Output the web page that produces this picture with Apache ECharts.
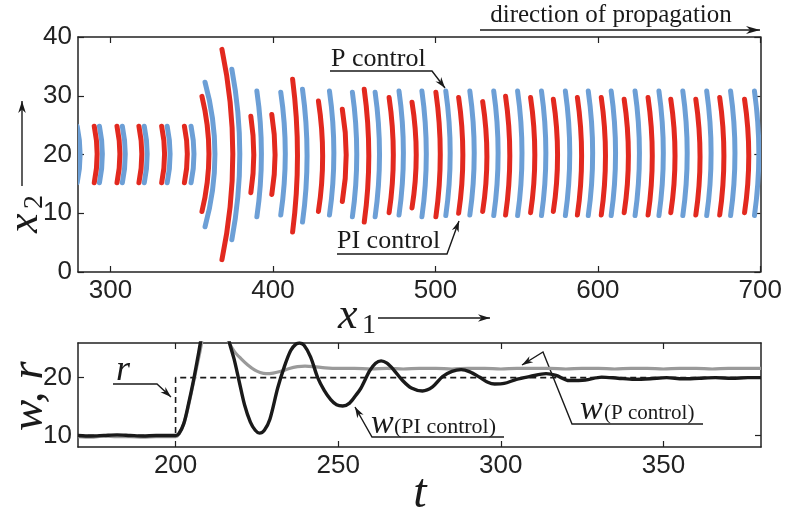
<!DOCTYPE html>
<html><head><meta charset="utf-8">
<script src="https://cdn.jsdelivr.net/npm/echarts@6/dist/echarts.min.js"></script>
<style>html,body{margin:0;padding:0;background:#fff}#c{width:785px;height:513px}</style>
</head><body><div id="c"></div>
<script>
// ---------- top panel: wave fronts [x1 at arc ends, x2 top, x2 bottom, bulge of arc middle in x1] ----------
const piFronts = [ // red (PI control)
  [290.0,24.8,15.2,1.8],[304.0,24.8,15.2,1.8],[317.5,24.8,15.2,1.8],[331.5,24.8,15.2,1.8],[345.5,24.8,15.2,1.8],
  [356.3,29.9,10.3,4.3],[368.6,37.9,2.1,6.7],[386.4,26.5,13.5,1.8],[399.3,26.8,13.2,2.0],[412.1,32.8,6.8,3.0],
  [428.0,29.1,10.3,2.6],[442.7,27.7,12.0,2.4],[456.2,31.1,8.5,2.8],[471.5,29.7,10.1,2.6],[485.6,28.9,10.9,2.6],
  [500.3,30.6,9.4,2.7],[514.3,29.7,10.0,2.6],[529.1,29.0,10.3,2.6],[543.2,29.9,9.7,2.6],[558.6,29.7,10.1,2.6],
  [572.6,29.4,10.3,2.6],[587.4,29.7,9.7,2.6],[602.1,29.7,9.7,2.6],[616.2,29.4,10.1,2.6],[630.9,29.7,9.7,2.6],
  [644.9,29.4,10.1,2.6],[660.3,29.4,9.7,2.6],[675.0,29.7,9.7,2.6],[690.3,29.4,10.1,2.6]
];
const pFronts = [ // blue (P control)
  [279.5,24.8,15.2,1.8],[293.2,24.8,15.2,1.8],[307.3,24.8,15.2,1.8],[320.8,24.8,15.2,1.8],[334.9,24.8,15.2,1.8],[349.6,24.8,15.2,1.8],
  [358.2,32.3,7.7,6.1],[374.7,34.5,5.5,4.9],[390.1,30.8,9.4,2.8],[404.8,30.6,9.7,2.8],[418.2,31.1,8.5,2.8],
  [434.8,30.8,9.7,2.7],[448.9,30.6,9.4,2.7],[462.9,30.6,9.4,2.7],[477.6,30.8,9.7,2.7],[491.7,30.8,9.4,2.7],
  [506.4,30.8,9.6,2.7],[521.2,30.8,9.7,2.7],[535.9,30.8,9.6,2.7],[550.6,30.8,9.6,2.7],[565.3,30.8,9.6,2.7],
  [580.0,30.8,9.6,2.7],[594.1,30.8,9.6,2.7],[608.2,30.8,9.6,2.7],[622.9,30.8,9.6,2.7],[637.6,30.8,9.6,2.7],
  [652.3,30.8,9.6,2.7],[667.0,30.8,9.6,2.7],[681.7,30.8,9.6,2.7],[696.4,30.8,9.6,2.7]
];
const topXTicks = [300,400,500,600,700];
const topYTicks = [0,10,20,30,40];

// ---------- bottom panel ----------
const botXTicks = [200,250,300,350];
const botYTicks = [10,20];
const wPI = [
  [170,10.0],[174,9.9],[178,10.0],[182,10.1],[186,10.0],[190,9.9],[194,10.0],[198,10.0],[200,10.0],[201,10.3],
  [202.5,12],[204,15.5],[205.5,19.5],[207,24],[208.5,28.5],[211,33],[213.5,33],[215.5,29],[216.6,26],[218,23.2],
  [219.5,19.5],[221.2,15.3],[223,12.3],[224.5,10.9],[225.8,10.4],[227.3,10.9],[229,12.8],[231.4,18.2],[233.5,22],
  [235.4,24.7],[237,25.8],[238.1,26],[239.5,25.6],[241.5,23.6],[243.7,20],[245.7,17.8],[247.7,16.2],[249.5,15.3],
  [251.4,15.1],[253.5,15.6],[255.5,17],[257,18.2],[259.7,21.2],[261.5,22.5],[263.2,22.9],[265,22.5],[267,21.4],
  [269.8,19.5],[272.5,18.2],[275.9,17.7],[279,18.4],[282.1,20.2],[285,21.1],[287.8,21.4],[290.5,21.0],[293.4,20.1],
  [296,19.2],[298.1,18.9],[301,19.0],[304.8,19.7],[309,20.2],[313.9,20.7],[317,20.4],[321,19.5],[326,19.6],
  [331,20.1],[336,19.9],[341,19.7],[346,19.8],[351,20.0],[356,19.8],[361,19.9],[366,20.0],[371,19.9],[376,20.0],[380,20.0]
];
const wP = [
  [170,9.8],[174,9.7],[178,9.9],[182,9.8],[186,9.8],[190,9.7],[194,9.8],[198,9.8],[200,9.8],[201.2,10.4],
  [202.8,12.5],[204.5,16.5],[206,20.5],[207.5,24.5],[209,28.5],[211.5,31],[214,30],[216.1,26.5],[218,24.6],
  [220.1,23.3],[222.2,22.2],[224.4,21.3],[226,20.9],[227.8,20.7],[230,20.8],[232.4,21.1],[235,21.6],[237.5,21.9],
  [239.8,22.0],[242.5,21.9],[246,21.7],[250,21.6],[255,21.6],[260,21.5],[265,21.6],[270,21.5],[275,21.6],
  [280,21.6],[285,21.5],[290,21.6],[295,21.6],[300,21.5],[305,21.6],[310,21.6],[315,21.6],[320,21.5],[325,21.6],
  [330,21.6],[335,21.5],[340,21.6],[345,21.6],[350,21.5],[355,21.6],[360,21.6],[365,21.5],[370,21.6],[375,21.6],[380,21.6]
];
const rRef = [[170,10],[200,10],[200,20],[380,20]];

// ---------- chart ----------
const RED = '#e2291f', BLUE = '#6c9fd6', INK = '#1a1a1a';
const tickFont = {fontFamily:'"Liberation Sans", Arial, sans-serif', fontSize:26, color:'#222'};
const axLine = {show:true, onZero:false, lineStyle:{color:'#222', width:1.5}};

function xAx(grid, min, max, ticks, pos, labels){
  return {gridIndex:grid, type:'value', min, max, position:pos, axisLine:axLine,
    axisTick:{show:true, inside:true, length:6, customValues:ticks, lineStyle:{color:'#222', width:1.2}},
    axisLabel:Object.assign({show:labels, margin:6, customValues:ticks}, tickFont),
    splitLine:{show:false}};
}
function yAx(grid, min, max, ticks, pos, labels){
  return {gridIndex:grid, type:'value', min, max, position:pos, axisLine:axLine,
    axisTick:{show:true, inside:true, length:6, customValues:ticks, lineStyle:{color:'#222', width:1.2}},
    axisLabel:Object.assign({show:labels, margin:6, customValues:ticks}, tickFont),
    splitLine:{show:false}};
}

function frontSeries(data, color){
  return {type:'custom', xAxisIndex:0, yAxisIndex:0, clip:true, data, encode:{x:0, y:[1,2]},
    renderItem(params, api){
      const x0=api.value(0), yt=api.value(1), yb=api.value(2), bow=api.value(3);
      const a=api.coord([x0,yt]), b=api.coord([x0,yb]), m=api.coord([x0+bow,(yt+yb)/2]);
      const cx=2*m[0]-(a[0]+b[0])/2, cy=2*m[1]-(a[1]+b[1])/2;
      return {type:'bezierCurve', shape:{x1:a[0],y1:a[1],x2:b[0],y2:b[1],cpx1:cx,cpy1:cy},
        style:{stroke:color, fill:null, lineWidth:5, lineCap:'round'}};
    }};
}

function arrow(pts, head, hw){
  head = head||11; hw = hw||3.6;
  const n=pts.length, p1=pts[n-2], p2=pts[n-1];
  const dx=p2[0]-p1[0], dy=p2[1]-p1[1], L=Math.hypot(dx,dy), ux=dx/L, uy=dy/L;
  const bx=p2[0]-ux*head, by=p2[1]-uy*head;
  const inner=[p2[0]-ux*head*0.7, p2[1]-uy*head*0.7];
  return [
    {type:'polyline', shape:{points:pts}, style:{stroke:INK, lineWidth:1.4, fill:null}},
    {type:'polygon', shape:{points:[p2,[bx-uy*hw,by+ux*hw],inner,[bx+uy*hw,by-ux*hw]]}, style:{fill:INK, stroke:null}}
  ];
}
function txt(s, x, y, font, align){
  return {type:'text', style:{text:s, x, y, font, fill:INK, textAlign:align||'left', textVerticalAlign:'middle'}};
}
const SERIF = '"Liberation Serif", "Times New Roman", serif';

const graphics = [].concat(
  txt('direction of propagation', 611, 15, '25px '+SERIF, 'center'),
  arrow([[480,30],[760,30]], 14, 4),
  txt('P control', 331, 59, '26px '+SERIF),
  arrow([[330,71],[432,71],[445,88]]),
  txt('PI control', 337, 241, '26px '+SERIF),
  arrow([[337,254],[447,254],[459,221]]),
  // x1 label
  txt('x', 338, 316, 'italic 44px '+SERIF),
  txt('1', 362, 326, '28px '+SERIF),
  arrow([[378,318],[490,318]], 12, 3.8),
  // x2 label (rotated)
  {type:'group', x:25, y:233, rotation:Math.PI/2, children:[
    txt('x', 0, 0, 'italic 44px '+SERIF),
    txt('2', 24, 10, '28px '+SERIF)
  ]},
  arrow([[22,186],[22,101]], 12, 3.8),
  // bottom panel labels
  {type:'group', x:30, y:431, rotation:Math.PI/2, children:[ txt('w, r', 0, 0, 'italic 47px '+SERIF) ]},
  txt('t', 420, 494, 'italic 48px '+SERIF, 'center'),
  txt('r', 116, 371, 'italic 36px '+SERIF),
  arrow([[113,384],[157,384],[171,397]]),
  txt('w', 371, 424, 'italic 34px '+SERIF),
  txt('(PI control)', 394, 427, '22px '+SERIF),
  arrow([[504,437],[372,437],[355,407]]),
  txt('w', 580, 410, 'italic 34px '+SERIF),
  txt('(P control)', 604, 413, '21px '+SERIF),
  arrow([[703,424],[572,424],[543,352],[522,365]])
);

const chart = echarts.init(document.getElementById('c'), null, {renderer:'canvas'});
chart.setOption({
  animation:false,
  backgroundColor:'#fff',
  grid:[{left:78, top:37, width:683, height:235}, {left:78, top:343, width:683, height:104}],
  xAxis:[
    xAx(0,280,700,topXTicks,'bottom',true), xAx(0,280,700,topXTicks,'top',false),
    xAx(1,170,380,botXTicks,'bottom',true), xAx(1,170,380,botXTicks,'top',false)
  ],
  yAxis:[
    yAx(0,0,40,topYTicks,'left',true), yAx(0,0,40,topYTicks,'right',false),
    yAx(1,8,26,botYTicks,'left',true), yAx(1,8,26,botYTicks,'right',false)
  ],
  series:[
    frontSeries(pFronts, BLUE),
    frontSeries(piFronts, RED),
    {type:'line', name:'r', xAxisIndex:2, yAxisIndex:2, data:rRef, showSymbol:false, z:2,
      lineStyle:{color:INK, width:1.6, type:[6,4]}},
    {type:'line', name:'w (P control)', xAxisIndex:2, yAxisIndex:2, data:wP, showSymbol:false, smooth:0.3, z:3,
      lineStyle:{color:'#9a9a9a', width:3.2}},
    {type:'line', name:'w (PI control)', xAxisIndex:2, yAxisIndex:2, data:wPI, showSymbol:false, smooth:0.3, z:4,
      lineStyle:{color:INK, width:3.4}}
  ],
  graphic:graphics
});
</script></body></html>
